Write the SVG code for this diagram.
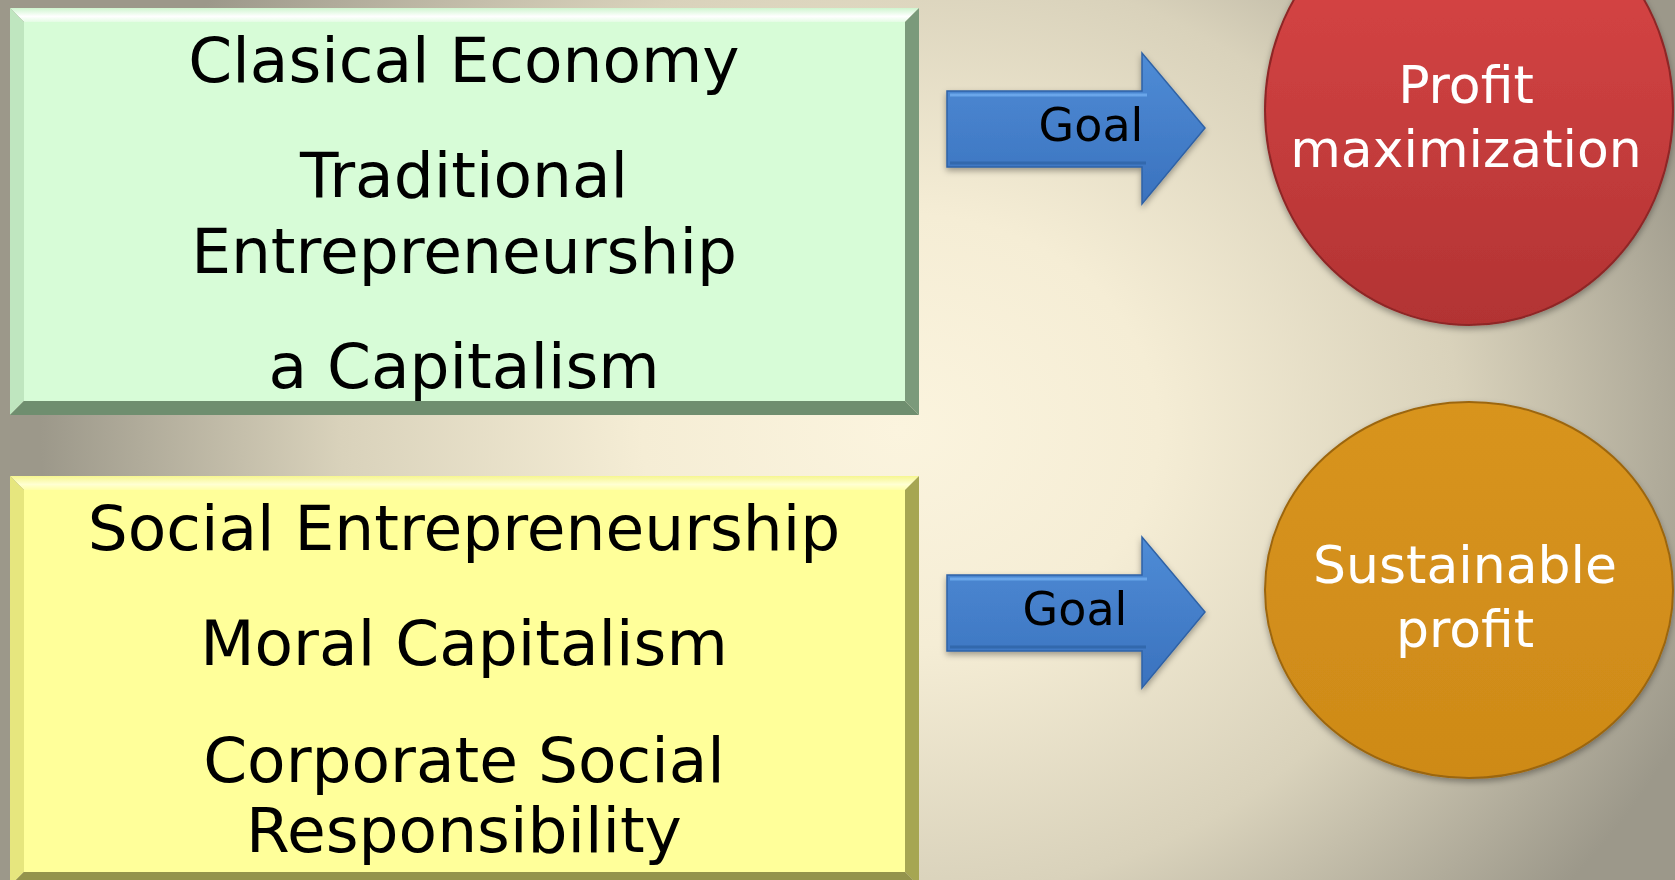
<svg xmlns="http://www.w3.org/2000/svg" width="1675" height="880" viewBox="0 0 1675 880">
  <defs>
    <radialGradient id="bg" gradientUnits="userSpaceOnUse" cx="0" cy="0" r="1" gradientTransform="translate(900 430) scale(860 720)">
      <stop offset="0" stop-color="#FBF4DE"/>
      <stop offset="0.3" stop-color="#F5EDD5"/>
      <stop offset="0.65" stop-color="#D9D2BB"/>
      <stop offset="1" stop-color="#9C988A"/>
    </radialGradient>
    <linearGradient id="arrowFill" x1="0" y1="0" x2="0" y2="1">
      <stop offset="0" stop-color="#4F8CD6"/>
      <stop offset="1" stop-color="#3A72BE"/>
    </linearGradient>
    <linearGradient id="redFill" x1="0" y1="0" x2="0" y2="1">
      <stop offset="0" stop-color="#DD4848"/>
      <stop offset="1" stop-color="#B23333"/>
    </linearGradient>
    <linearGradient id="orangeFill" x1="0" y1="0" x2="0" y2="1">
      <stop offset="0" stop-color="#D8941E"/>
      <stop offset="1" stop-color="#CE8A18"/>
    </linearGradient>
    <linearGradient id="greenTop" x1="0" y1="0" x2="0" y2="1">
      <stop offset="0" stop-color="#CFF5CF"/>
      <stop offset="0.6" stop-color="#FFFFFF"/>
      <stop offset="1" stop-color="#E4FCE4"/>
    </linearGradient>
    <linearGradient id="yellowTop" x1="0" y1="0" x2="0" y2="1">
      <stop offset="0" stop-color="#F6F690"/>
      <stop offset="0.6" stop-color="#FFFFD2"/>
      <stop offset="1" stop-color="#FFFFA8"/>
    </linearGradient>
    <filter id="shadow" x="-10%" y="-10%" width="120%" height="125%">
      <feDropShadow dx="0" dy="3" stdDeviation="3" flood-color="#000" flood-opacity="0.35"/>
    </filter>
  </defs>
  <style>
    .box { font-family: "DejaVu Sans", Verdana, sans-serif; font-size: 63px; fill: #000; text-anchor: middle; }
    .goal { font-family: "DejaVu Sans", Verdana, sans-serif; font-size: 46px; fill: #000; text-anchor: middle; }
    .circ { font-family: "DejaVu Sans", Verdana, sans-serif; font-size: 52px; fill: #FFF; text-anchor: middle; }
    .arrow { fill: url(#arrowFill); stroke: #2F62A6; stroke-width: 1.5; stroke-linejoin: miter; }
  </style>

  <!-- backdrop -->
  <rect x="0" y="0" width="1675" height="880" fill="url(#bg)"/>

  <!-- green bevelled panel -->
  <g id="classical">
    <polygon points="10,8 919,8 905,22 24,22" fill="url(#greenTop)"/>
    <polygon points="10,8 24,22 24,401 10,415" fill="#BFE6BF"/>
    <polygon points="919,8 919,415 905,401 905,22" fill="#7B9A7B"/>
    <polygon points="10,415 24,401 905,401 919,415" fill="#6F8E6F"/>
    <rect x="24" y="22" width="881" height="379" fill="#D7FCD7"/>
    <text class="box" x="464" y="82">Clasical Economy</text>
    <text class="box" x="464" y="197">Traditional</text>
    <text class="box" x="464" y="273">Entrepreneurship</text>
    <text class="box" x="464" y="388">a Capitalism</text>
  </g>

  <!-- yellow bevelled panel -->
  <g id="social">
    <polygon points="10,476 919,476 905,490 24,490" fill="url(#yellowTop)"/>
    <polygon points="10,476 24,490 24,872 10,886" fill="#E6E67E"/>
    <polygon points="919,476 919,886 905,872 905,490" fill="#A6A652"/>
    <polygon points="10,886 24,872 905,872 919,886" fill="#94944C"/>
    <rect x="24" y="490" width="881" height="382" fill="#FFFF9A"/>
    <text class="box" x="464" y="550">Social Entrepreneurship</text>
    <text class="box" x="464" y="665">Moral Capitalism</text>
    <text class="box" x="464" y="782">Corporate Social</text>
    <text class="box" x="464" y="852">Responsibility</text>
  </g>

  <!-- goal arrows -->
  <g id="connectors">
    <g id="goal-top" filter="url(#shadow)">
      <polygon class="arrow" points="947,91 1142,91 1142,53 1205,128 1142,204 1142,167 947,167"/>
      <polyline points="950,95 1147,95" stroke="#74AEF0" stroke-width="3" fill="none" opacity="0.8"/>
      <polyline points="950,163 1146,163" stroke="#2C5C9C" stroke-width="3" fill="none" opacity="0.6"/>
      <text class="goal" x="1091" y="141">Goal</text>
    </g>
    <g id="goal-bottom" filter="url(#shadow)">
      <polygon class="arrow" points="947,575 1142,575 1142,537 1205,612 1142,688 1142,651 947,651"/>
      <polyline points="950,579 1147,579" stroke="#74AEF0" stroke-width="3" fill="none" opacity="0.8"/>
      <polyline points="950,647 1146,647" stroke="#2C5C9C" stroke-width="3" fill="none" opacity="0.6"/>
      <text class="goal" x="1075" y="625">Goal</text>
    </g>
  </g>

  <!-- outcome discs -->
  <g id="profit-max">
    <ellipse cx="1469" cy="110" rx="204" ry="215" fill="url(#redFill)" stroke="#8E2626" stroke-width="2" filter="url(#shadow)"/>
    <text class="circ" x="1466" y="103">Profit</text>
    <text class="circ" x="1466" y="167">maximization</text>
  </g>
  <g id="sustainable">
    <ellipse cx="1469" cy="590" rx="204" ry="188" fill="url(#orangeFill)" stroke="#9C6610" stroke-width="2" filter="url(#shadow)"/>
    <text class="circ" x="1465" y="583">Sustainable</text>
    <text class="circ" x="1465" y="647">profit</text>
  </g>
</svg>
